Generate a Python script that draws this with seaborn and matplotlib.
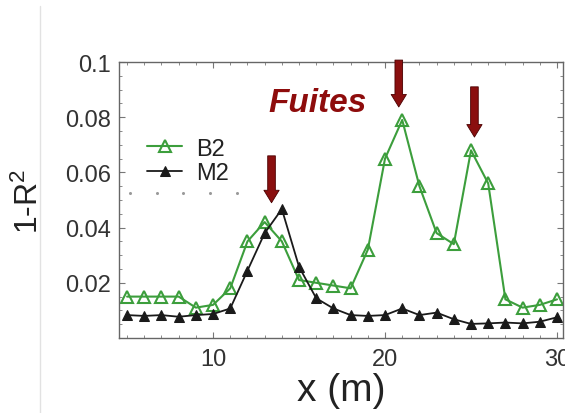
import matplotlib
matplotlib.use("Agg")
import matplotlib.pyplot as plt
import seaborn as sns
import pandas as pd
from matplotlib.ticker import MultipleLocator
from matplotlib.lines import Line2D

# ---- data ----
x_m = [5, 6, 7, 8, 9, 10, 11, 12, 13, 14, 15, 16, 17,
       18, 19, 20, 21, 22, 23, 24, 25, 26, 27, 28, 29, 30]
b2 = [0.015, 0.015, 0.015, 0.015, 0.011, 0.012, 0.018, 0.035, 0.042, 0.035, 0.021, 0.020, 0.019,
      0.018, 0.032, 0.065, 0.079, 0.055, 0.038, 0.034, 0.068, 0.056, 0.014, 0.011, 0.012, 0.014]
m2 = [0.0083, 0.008, 0.0083, 0.0077, 0.0083, 0.0087, 0.0107, 0.0244, 0.038, 0.0467, 0.0258, 0.0144, 0.0107,
      0.0083, 0.008, 0.0083, 0.0107, 0.0083, 0.0092, 0.0068, 0.0051, 0.0053, 0.0056, 0.0053, 0.0059, 0.0075]
series_names = ["B2", "M2"]
arrow_x = [13.4, 20.8, 25.2]
arrow_top = [0.066, 0.1007, 0.091]
arrow_tip = [0.049, 0.0837, 0.0728]
annotation_text = "Fuites"
annotation_pos = (16.1, 0.0855)
faint_dots_x = [5.17, 6.74, 8.26, 9.83, 11.40]
faint_dots_y = [0.0525, 0.0525, 0.0525, 0.0525, 0.0525]
x_ticks = [10, 20, 30]
y_ticks = [0.02, 0.04, 0.06, 0.08, 0.1]
y_tick_labels = ["0.02", "0.04", "0.06", "0.08", "0.1"]

df = pd.DataFrame({"x": x_m, "B2": b2, "M2": m2})

sns.set_style("ticks")
plt.rcParams["font.family"] = ["Liberation Sans", "DejaVu Sans"]
plt.rcParams["mathtext.fontset"] = "custom"
plt.rcParams["mathtext.rm"] = "Liberation Sans"
plt.rcParams["mathtext.it"] = "Liberation Sans:italic"

fig = plt.figure(figsize=(5.65, 4.14), dpi=100)
ax = fig.add_axes([119 / 565, 1 - 339 / 414, (563 - 119) / 565, (339 - 63) / 414])

green = "#3c9e3c"
black = "#1a1a1a"
ax.plot(faint_dots_x, faint_dots_y, ls="none", marker="o", markersize=2.2,
        color="#9a9a9a", markeredgewidth=0)
sns.lineplot(data=df, x="x", y="B2", ax=ax, color=green, lw=1.5, marker="^",
             markersize=9, markerfacecolor="none", markeredgecolor=green,
             markeredgewidth=1.5, label=series_names[0])
sns.lineplot(data=df, x="x", y="M2", ax=ax, color=black, lw=1.3, marker="^",
             markersize=7, markerfacecolor=black, markeredgecolor=black,
             label=series_names[1])

ax.set_xlim(4.53, 30.35)
ax.set_ylim(0, 0.1)
ax.set_xticks(x_ticks)
ax.set_yticks(y_ticks)
ax.set_yticklabels(y_tick_labels)
ax.xaxis.set_minor_locator(MultipleLocator(1))
ax.yaxis.set_minor_locator(MultipleLocator(0.005))
ax.tick_params(which="both", direction="in", top=True, right=True, color="#777777")
ax.tick_params(which="major", length=4, width=0.8, labelsize=17, labelcolor="#333333")
ax.tick_params(which="minor", length=2.5, width=0.6)
ax.tick_params(axis="y", pad=6)
ax.tick_params(axis="x", pad=7)
for s in ax.spines.values():
    s.set_color("#666666")
    s.set_linewidth(1.0)

ax.set_xlabel("x (m)", fontsize=28, color="#222222", labelpad=2)
ax.set_ylabel(r"1-R$^{\mathrm{2}}$", fontsize=23, color="#222222", labelpad=14)

leg = ax.legend(loc="upper left", bbox_to_anchor=(0.063, 0.726), frameon=False,
                fontsize=17, handlelength=1.5, handletextpad=0.6, labelspacing=0.1,
                borderpad=0, borderaxespad=0)
for t in leg.get_texts():
    t.set_color("#222222")

for xa, yt, yb in zip(arrow_x, arrow_top, arrow_tip):
    ax.annotate("", xy=(xa, yb), xytext=(xa, yt), annotation_clip=False,
                arrowprops=dict(arrowstyle="simple,head_length=0.9,head_width=1.1,tail_width=0.55",
                                mutation_scale=10, fc="#8a0f0f", ec="#4a0000", lw=0.6,
                                shrinkA=0, shrinkB=0))

ax.text(annotation_pos[0], annotation_pos[1], annotation_text, fontsize=24,
        fontweight="bold", fontstyle="italic", color="#8e0c0c", ha="center", va="center")

fig.add_artist(Line2D([40 / 565, 40 / 565], [0, 1 - 7 / 414], color="#e2e2e2", lw=1))

fig.savefig("out.png", dpi=100)
